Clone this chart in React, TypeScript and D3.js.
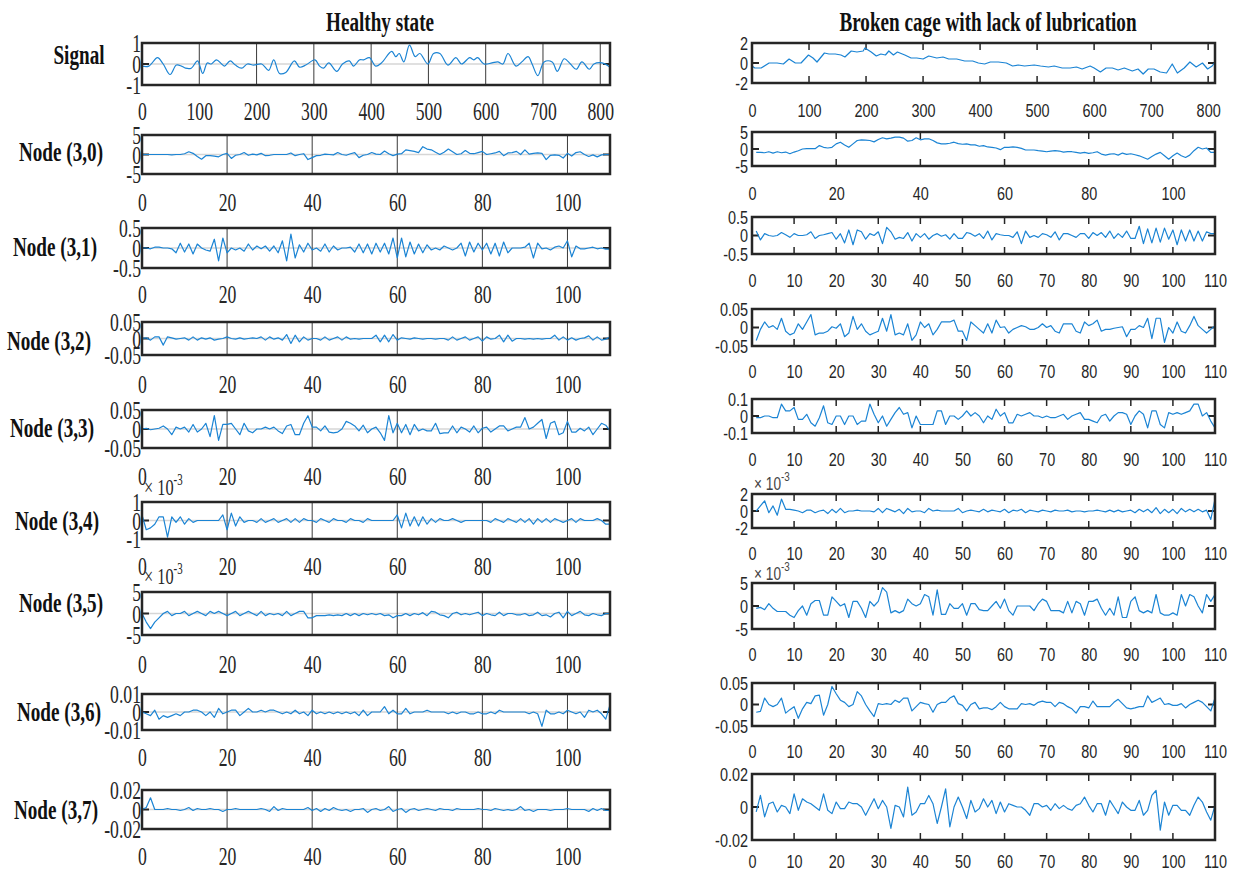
import * as d3 from 'd3';
import { useEffect, useRef } from 'react';

const W = 1245;
const H = 875;
const BLUE = '#1b84d4';
const INK = '#262626';
const SERIF = '"Liberation Serif", "Times New Roman", serif';
const SANS = '"Liberation Sans", Arial, sans-serif';

// ---- titles / row labels ----
const colTitles = ['Healthy state', 'Broken cage with lack of lubrication'];
const rowLabels = ['Signal', 'Node (3,0)', 'Node (3,1)', 'Node (3,2)', 'Node (3,3)', 'Node (3,4)', 'Node (3,5)', 'Node (3,6)', 'Node (3,7)'];

// ---- tick values ----
const signalTicks = [0, 100, 200, 300, 400, 500, 600, 700, 800];
const healthyNodeTicks = [0, 20, 40, 60, 80, 100];
const brokenNodeTicks = [0, 10, 20, 30, 40, 50, 60, 70, 80, 90, 100, 110];

// ---- signals (sample index, value) ----
const sigHealthyX = [0, 12, 27, 37, 49, 60, 69, 76, 86, 97, 106, 114, 121, 130, 139, 144, 154, 163, 174, 184, 195, 209, 221, 230, 240, 251, 266, 275, 286, 302, 310, 317, 326, 340, 350, 362, 369, 380, 387, 397, 408, 418, 436, 443, 449, 457, 467, 477, 485, 499, 509, 520, 534, 548, 558, 572, 579, 586, 597, 611, 621, 630, 639, 653, 663, 674, 681, 691, 702, 716, 725, 737, 748, 758, 768, 781, 789, 803, 817];
const sigHealthyY = [-0.1, -0.1, 0.3, 0, -0.5, -0.05, -0.1, -0.2, -0.2, 0.15, -0.45, 0.05, 0, 0.2, 0, -0.1, 0.15, -0.05, -0.2, 0, -0.05, 0, -0.3, 0.2, -0.45, -0.4, 0.15, -0.15, -0.05, 0.2, -0.1, -0.2, 0.05, -0.35, 0, 0.15, -0.1, 0.2, 0.2, 0.3, -0.1, 0.05, 0.6, 0.35, 0.5, 0.1, 0.9, 0.35, 0.5, 0, 0.5, 0.5, -0.05, 0.3, 0, 0.3, 0.2, 0.3, 0, 0.05, 0.1, 0, 0.5, -0.1, 0.1, 0.35, 0, -0.55, 0.1, 0.1, -0.35, 0.25, 0, -0.25, 0.1, -0.25, 0, 0.05, -0.15];
const sigBrokenX = [0, 5, 16, 30, 44, 55, 65, 76, 86, 99, 107, 114, 127, 135, 146, 156, 163, 174, 184, 195, 198, 209, 218, 226, 234, 240, 248, 255, 268, 279, 289, 300, 310, 324, 335, 345, 359, 373, 387, 397, 408, 418, 432, 446, 457, 467, 478, 495, 506, 520, 530, 544, 558, 569, 579, 593, 600, 611, 621, 632, 642, 653, 667, 677, 686, 695, 705, 716, 727, 737, 746, 758, 768, 779, 790, 799, 807, 812];
const sigBrokenY = [-0.3, -0.5, -0.5, 0, 0, -0.1, 0.4, 0, 0, 0.8, 0.5, 0.1, 1.0, 0.9, 0.9, 0.8, 0.6, 1.2, 1.1, 1.2, 1.5, 1.1, 0.7, 0.9, 0.8, 1.2, 0.8, 1.1, 0.8, 0.5, 0.5, 0.4, 0.7, 0.5, 0.6, 0.4, 0.4, 0.2, 0.2, 0, -0.1, 0.1, 0.1, 0, -0.3, -0.2, -0.3, -0.2, -0.3, -0.4, -0.3, -0.5, -0.5, -0.4, -0.6, -0.3, -0.5, -0.9, -0.5, -0.5, -0.7, -0.5, -0.8, -0.6, -1.1, -0.6, -0.6, -0.9, -1.0, -0.1, -1.0, -0.5, 0.1, -0.4, 0, -0.6, -0.3, 0.1];

// ---- wavelet packet nodes, healthy (samples 0..110) ----
const h30 = [0, 0, 0, 0, 0, 0, 0, -0.1, 0, 0, 0.2, 0.7, 0.3, -0.5, -1.2, -0.3, -0.3, -0.4, -0.6, 0, 0.3, -1.0, -0.2, 0, 0.5, -0.2, 0.1, -0.1, 0.3, -0.3, -0.2, 0, 0, 0, 0, 0.4, -0.3, 0, 0.2, -1.3, -0.8, -0.3, -0.2, 0.1, 0, -0.1, 0.5, 0, -0.2, 0.2, 0.5, -0.8, -0.2, 0, 0.5, 0.1, 0, 0.9, 0.2, -0.3, 0.1, 0.2, 1.2, 1.0, 0.8, 0.5, 2.0, 1.4, 1.2, 0.6, 0, 0.6, 1.4, 0.7, 0, 0.2, 1.0, 0.3, 0.2, 0.5, 0.8, 0, 0.2, 0.4, 0.8, -0.3, 0.4, 0.5, 0.8, 0, 1.2, 0.1, 0.3, 0.4, 0.3, -1.3, -0.2, -0.1, -0.2, -0.9, 0.3, -0.4, 0.5, 0.7, 0, -0.5, -0.1, -0.6, -0.1, 0, 0];
// x0.01
const h31 = [0, 0, -2, 2, 2, 0, 0, -2, -12, 12, -10, 10, -15, 10, 0, -5, -8, 22, -32, 25, -12, 0, -5, 0, -8, 10, -5, 5, -2, 5, -8, 5, -12, 18, -32, 35, -25, 8, -10, 12, -5, 0, -8, 10, -10, 5, -5, 0, 0, 2, -10, 10, -12, 10, -15, 12, -10, 12, -15, 25, -25, 25, -22, 15, -15, 10, -12, 8, -5, 0, -5, 5, 0, -5, 0, 12, -20, 15, -10, 12, -5, 12, -15, 12, -20, 15, -12, 0, 0, 0, 2, 12, -25, 12, -2, 0, -5, 2, 5, 0, 18, -22, 5, -2, -2, 0, 2, -2, 0, -3, -3];
// x0.001
const h32 = [0, 2, -5, 5, 5, -20, 5, 2, -2, 0, 2, -5, 5, -5, 2, -2, 2, -5, -2, 0, 5, 0, -2, 2, -2, 0, 2, 0, 5, -5, 5, -2, 2, -5, 12, -15, 10, -10, 5, -5, 0, 0, -5, 5, -5, 0, 5, -5, 5, -2, 0, -2, 0, 0, 0, 10, -10, 10, -10, 12, -5, 2, 0, -2, 2, 0, -2, 0, 0, -2, 0, 0, -5, 5, -5, 0, 5, -5, 0, 5, -8, 5, -2, 0, 10, -10, 10, -8, 0, 0, -2, 0, -2, 0, -2, 0, 0, 10, -5, 5, -5, 2, -5, 0, 2, 8, -5, 5, -5, -2, 5];
// x0.001
const h33 = [0, 2, -2, 0, 2, 8, 0, -15, 5, 0, 5, -8, 12, -8, 0, 15, -20, 35, -30, 12, 12, 15, 0, -15, 15, -5, -10, 0, 0, 5, 0, 5, -5, -12, 8, 12, -15, -15, 15, 35, 5, 5, -5, 8, -8, -10, -8, 0, 20, 15, 8, -5, 10, -10, 0, 5, -10, -30, 35, -10, 15, -10, 12, -15, 12, -5, 0, -5, -5, 15, -12, -10, -10, 8, -10, 5, 0, -8, 8, -10, 2, 5, -8, 0, 8, 8, -5, 0, 5, 5, 30, 0, 5, 15, 25, -25, 15, 20, -15, -10, 20, -8, -8, 2, -5, 5, -15, 0, 15, 10, -5];
// x0.0001
const h34 = [3, -5, -4, -2, 2, 2, -9, 2, -1, 2, -2, 1, -1, 0, 0, 0, 0, 0, 0, 3, -5, 4, -3, 2, -1, 0, 0, -1, 1, -1, 0, 1, -1, 0, 1, -1, 1, -1, 1, 0, 0, -1, 1, 0, -1, 1, 0, 0, -1, 1, 0, 0, -1, 1, 0, 0, 0, 0, 0, 0, 3, -4, 4, -3, 2, -3, 2, -2, 1, -1, 1, 0, 0, 1, 0, -1, 0, 0, 0, 0, 0, 0, -1, 1, 0, -1, 1, 0, -1, 1, -1, 1, -2, 1, -1, 1, -1, 1, 0, -1, 0, 1, -1, 1, 0, 0, 0, 1, 0, -2, -2];
// x0.001
const h35 = [0, -2, -3.5, -2, -1, 0, 0.5, -0.5, 0, 0, 0.5, -0.5, 0, 0.5, 0, -0.5, 0.5, 0, 0.5, 0, -0.5, 0, 0.5, -0.5, 0, 0.5, 0, -0.5, 0.5, -0.5, 0, -0.3, 0, -0.5, 0.5, -0.5, 0, 0.5, 0.5, -1, -1, -0.5, -0.5, -0.5, -0.3, -0.5, -0.3, -0.5, 0, -0.5, 0, -0.5, 0, -0.3, 0, -0.3, 0, -0.5, -0.3, -1, -0.5, -0.5, 0, -0.5, 0, -0.3, 0.2, -0.5, 0.5, 0.3, -0.3, -0.5, -1, 0, 0.3, -0.3, 0, -0.3, 0, 0.3, -0.5, 0, -0.3, -0.5, 0.3, -0.5, 0, 0, -0.3, -0.3, 0, -0.5, -0.3, 0.3, -0.5, -0.3, -0.8, 0, 0.3, -1, 0.5, -0.5, 0, 0.5, -0.3, -0.5, 0, -0.3, -0.5, 0, 0];
// x0.001
const h36 = [0, -1, -2, 1, -4, -2, -3, -2, -1, -2, 0, 0, 1, 1, 0, -2, 0, -3, 2, -1, 0, 1, 1, -2, 0, 2, 0, 0, 1, 0, 1, 1, 0, -1, 0, -1, 1, -1, 0, -2, 1, -1, 0, -1, 0, -1, 0, -1, 0, -1, 0, -2, 1, -2, 0, 0, 0, 3, -1, 1, -1, -1, 2, -1, 0, 0, 0, 1, 0, 0, 0, 0, -1, 0, -1, 0, 0, -1, -1, 0, -1, -1, 0, -1, 1, 0, 0, 0, 0, 0, 0, -1, 0, -1, -8, 1, -1, -1, 0, -1, 1, 0, -1, 0, -3, 1, 0, 1, -1, -4, 4];
// x0.001
const h37 = [0, 2, 12, 0, 0, 0, 1, 0, 0, -1, 0, 2, -1, 1, 0, 0, 1, 0, 0, -2, 0, 0, 1, 0, 0, 0, 0, 0, 1, 0, -2, 3, -1, 1, 0, 0, 0, 0, 0, 2, -1, 1, -2, 1, -1, 2, 0, -1, 0, -2, 0, 0, 1, -3, 0, 1, -1, 0, 3, -2, 0, 1, -3, 0, 1, -1, 0, 1, 0, -1, 1, 0, 0, -1, 1, 0, 0, 0, 0, 1, 0, 0, -1, 1, 0, -1, 0, -1, 0, 3, -1, 0, -2, 0, 0, 0, -1, 0, 0, 0, 1, 0, 0, 0, 0, -2, 1, -1, 1, -1, -1];

// ---- wavelet packet nodes, broken cage (samples 1..110) ----
const b30 = [-1.0, -1.0, -1.1, -0.8, -1.2, -0.8, -1.1, -0.9, -1.4, -0.9, -0.5, 0, 0.1, 0.1, 0.1, 1.0, 0.5, 0.3, 0.5, 1.5, 2.0, 1.2, 0.5, 1.5, 2.5, 2.7, 2.6, 2.5, 2.1, 2.8, 3.3, 3.0, 3.2, 3.5, 3.5, 3.2, 2.3, 2.5, 3.3, 2.7, 3.0, 3.0, 2.5, 1.8, 1.5, 1.5, 1.7, 2.0, 1.6, 1.4, 1.5, 1.2, 1.2, 0.8, 1.0, 0.6, 0.5, 0.3, -0.2, 0.5, 0.5, 0.6, 0.5, 0.2, -0.3, -0.3, -0.3, -0.5, -0.6, -0.8, -0.6, -0.5, -0.6, -0.9, -0.8, -0.8, -1.0, -1.2, -1.0, -1.3, -1.1, -0.8, -1.5, -1.8, -1.5, -1.4, -1.8, -1.2, -1.6, -1.4, -1.7, -2.0, -2.5, -3.0, -2.2, -1.5, -1.0, -2.0, -3.0, -2.0, -1.2, -2.0, -2.5, -1.8, -0.5, 0.5, 0, 0.3, -1.0, -1.0];
// x0.01
const b31 = [12, -12, 5, 0, -2, 0, 8, 2, -5, 5, 0, 0, 2, 10, -8, 0, 2, 5, 8, -10, 5, -20, 15, -25, 15, 10, -10, 5, 0, 10, -22, 22, 10, -10, -5, -8, 8, -15, 5, -5, 5, -10, 0, 5, -2, 2, -10, 5, -8, -8, 8, 5, -2, 5, -8, 12, -12, 5, 2, 0, 0, -5, 10, -22, 12, -5, 0, -5, 5, 2, -5, 10, -12, 5, 5, 0, -5, 5, 5, -8, 8, 0, 8, -5, 12, -8, 5, -5, 12, -8, -8, 25, -22, 18, -20, 20, -18, 20, -10, 15, -25, 15, -15, 15, -15, 12, -15, 10, 5, 5];
// x0.001
const b32 = [-35, -5, 15, 0, 5, -5, 25, -10, -20, -15, 10, -5, 15, 35, -20, -15, -15, -10, 2, -2, 10, -25, -15, 30, -5, 10, -10, -20, -15, -10, 25, -10, 35, -20, -15, -20, 10, -35, -20, 15, 0, 10, -20, -5, 15, 15, 15, 20, -10, -10, -35, 15, 5, -5, -15, 10, -15, 20, 0, 2, -15, -5, 0, 5, 2, -5, -5, 0, 10, 0, 5, -10, -15, 10, 10, 10, -10, -15, 15, 5, 10, 20, -10, -5, -5, -2, 0, 2, -25, -5, -5, 5, 0, 25, -30, 25, 25, -40, 0, -15, 15, -10, -15, 5, 30, 5, -5, -15, -5, 5];
// x0.01
const b33 = [-1, -1, 0, 0, -1, -1, 7, 3, 3, 5, -2, -2, 1, -4, -6, -1, 6, -4, -5, 0, 0, -5, 0, 0, -5, -3, -3, 7, 1, -4, 0, -6, -2, 2, 5, 1, 2, -7, 0, -5, -5, -5, -5, 3, 3, -5, 0, 0, -2, 0, 3, 0, 2, 0, -4, 0, -2, 4, 0, 2, -4, -4, 1, 0, 1, 2, 0, 0, -1, 0, -1, -1, 0, 1, -2, 0, 1, 2, -2, -2, -3, -4, 0, 1, -3, 0, 2, 2, 1, -5, 0, 3, 1, -7, 3, 3, -5, -7, 2, 1, 2, 1, 2, 3, 7, 7, 0, 2, -3, -7];
// x0.0001
const b34 = [0, 6, 12, -2, 6, -5, 14, 2, 2, 1, 0, -2, 1, 1, -2, 0, 1, -3, 2, -2, 3, -2, 0, 0, 1, 0, 0, 0, -1, 3, -2, 3, 1, -1, 2, -3, 3, -1, 0, 0, -2, 3, 0, 1, 0, 0, 0, 0, 3, -2, 0, 1, 0, -1, 2, -1, 1, 0, -1, 2, -2, 1, 0, 2, -2, 1, 0, -1, 1, 0, -1, 1, 0, 0, 1, -1, 0, 0, -1, 0, 0, 1, 0, -1, 1, -1, 1, -1, 0, 1, -2, 2, -1, 2, -2, 4, -3, 2, -2, 2, -3, 3, -1, 2, -1, 2, -1, 1, -10, 14];
// x0.001
const b35 = [-0.5, -0.3, -0.8, 0.5, -0.5, -1.2, -1.2, -1.2, -2, -2.5, -1, 0, -2, 0.5, 1.2, 1.2, -2, -2, 2, 1, 0, 0.5, -2.5, 1, 1, -0.5, -2.5, 1, 0, 1, 4, 3, -1.5, -1, -1.5, -1, 1.5, 0.5, 0, 0.5, 2.5, 2, -2, 3.5, -1.8, -1.8, 0.5, -0.5, -0.5, 0.5, -2, 0.5, 0.5, -0.8, -1, -1, 0, 1, -0.5, 1.5, -1, -2, 0, 0, 0, 0, -1, 0.5, 1.5, 1, -1, -1, -1, -1.5, 1, -1.5, 1, 0.5, -2, 1, 1, 1.5, -0.5, -2, -0.5, -2, 2, -2.5, -2.5, 1, 2, -1, -1.5, -1, -1.5, 2.5, -1.5, -2, -2, -1.5, -2, 2.5, 0, 2.5, 2, 0, -1.5, 2.5, 1, 2.5];
// x0.001
const b36 = [-18, -16, 15, 0, -5, 0, 15, -20, -12, -5, -32, -10, 5, 2, 20, 22, -25, 0, 42, 25, 10, 5, -5, 0, 30, 20, 0, -15, -28, 2, 0, 2, 0, 10, 5, 15, 15, -15, -5, 5, 2, 0, -18, 0, 5, 5, 15, 20, 2, -2, -15, 0, 5, -10, -8, -8, -12, -5, 5, -5, -10, -10, -10, 2, 0, 2, -2, 5, 8, 5, 5, -5, 5, 2, -5, -10, -20, -5, -5, -8, 8, -5, -5, -5, -5, 5, 12, 2, -8, -10, -8, -5, -5, 20, 5, 10, 15, 0, 2, -2, -2, 2, -8, 0, 5, 10, 5, -5, -15, 15];
// x0.001
const b37 = [-3, 7, -6, 2, 3, -3, 1, 0, -4, 8, -2, 5, 3, 2, 0, -2, 8, -2, -4, 3, -1, -1, 3, 2, 2, 0, -5, 0, 5, -1, 4, 0, -13, 1, 0, -6, 12, -5, -3, 2, 2, 7, 2, -10, 0, 11, -12, 0, 6, 0, -7, 4, -3, -1, 5, 0, 4, -4, 3, -3, 2, 1, 0, 0, -2, -5, 2, 2, 0, 1, -2, 2, -1, 1, -1, -2, 1, 2, 6, 1, -3, 2, 2, -5, 4, 0, -4, 3, 0, -2, -2, 4, -5, -2, 7, 10, -14, 3, -5, 1, 1, -2, -2, -5, 1, 6, 3, -3, -8, 1];

type Panel = {
  side: 'L' | 'R';
  top: number;
  bottom: number;
  labelY: number;
  xs?: number[];
  ys: number[];
  start?: number;
  k: number;
  xMax: number;
  xTicks: number[];
  yLim: number;
  yLabels: string[];
  mult?: number;
  smooth?: boolean;
};

const panels: Panel[] = [
  { side: 'L', top: 43, bottom: 85, labelY: 111, xs: sigHealthyX, ys: sigHealthyY, k: 1, xMax: 817, xTicks: signalTicks, yLim: 1, yLabels: ['1', '0', '-1'], smooth: true },
  { side: 'L', top: 135, bottom: 174, labelY: 202, ys: h30, start: 0, k: 1, xMax: 110, xTicks: healthyNodeTicks, yLim: 5, yLabels: ['5', '0', '-5'] },
  { side: 'L', top: 228, bottom: 268, labelY: 294, ys: h31, start: 0, k: 0.01, xMax: 110, xTicks: healthyNodeTicks, yLim: 0.5, yLabels: ['0.5', '0', '-0.5'] },
  { side: 'L', top: 322, bottom: 355, labelY: 384, ys: h32, start: 0, k: 0.001, xMax: 110, xTicks: healthyNodeTicks, yLim: 0.05, yLabels: ['0.05', '0', '-0.05'] },
  { side: 'L', top: 410, bottom: 448, labelY: 476, ys: h33, start: 0, k: 0.001, xMax: 110, xTicks: healthyNodeTicks, yLim: 0.05, yLabels: ['0.05', '0', '-0.05'] },
  { side: 'L', top: 502, bottom: 539, labelY: 566, ys: h34, start: 0, k: 0.0001, xMax: 110, xTicks: healthyNodeTicks, yLim: 0.001, yLabels: ['1', '0', '-1'], mult: 487 },
  { side: 'L', top: 592, bottom: 635, labelY: 664, ys: h35, start: 0, k: 0.001, xMax: 110, xTicks: healthyNodeTicks, yLim: 0.005, yLabels: ['5', '0', '-5'], mult: 576 },
  { side: 'L', top: 694, bottom: 730, labelY: 757, ys: h36, start: 0, k: 0.001, xMax: 110, xTicks: healthyNodeTicks, yLim: 0.01, yLabels: ['0.01', '0', '-0.01'] },
  { side: 'L', top: 790, bottom: 829, labelY: 856, ys: h37, start: 0, k: 0.001, xMax: 110, xTicks: healthyNodeTicks, yLim: 0.02, yLabels: ['0.02', '0', '-0.02'] },

  { side: 'R', top: 43, bottom: 83, labelY: 111, xs: sigBrokenX, ys: sigBrokenY, k: 1, xMax: 812, xTicks: signalTicks, yLim: 2, yLabels: ['2', '0', '-2'] },
  { side: 'R', top: 132, bottom: 166, labelY: 194, ys: b30, start: 1, k: 1, xMax: 110, xTicks: healthyNodeTicks, yLim: 5, yLabels: ['5', '0', '-5'] },
  { side: 'R', top: 217, bottom: 254, labelY: 281, ys: b31, start: 1, k: 0.01, xMax: 110, xTicks: brokenNodeTicks, yLim: 0.5, yLabels: ['0.5', '0', '-0.5'] },
  { side: 'R', top: 309, bottom: 346, labelY: 372, ys: b32, start: 1, k: 0.001, xMax: 110, xTicks: brokenNodeTicks, yLim: 0.05, yLabels: ['0.05', '0', '-0.05'] },
  { side: 'R', top: 399, bottom: 433, labelY: 460, ys: b33, start: 1, k: 0.01, xMax: 110, xTicks: brokenNodeTicks, yLim: 0.1, yLabels: ['0.1', '0', '-0.1'] },
  { side: 'R', top: 494, bottom: 528, labelY: 554, ys: b34, start: 1, k: 0.0001, xMax: 110, xTicks: brokenNodeTicks, yLim: 0.002, yLabels: ['2', '0', '-2'], mult: 483 },
  { side: 'R', top: 583, bottom: 629, labelY: 655, ys: b35, start: 1, k: 0.001, xMax: 110, xTicks: brokenNodeTicks, yLim: 0.005, yLabels: ['5', '0', '-5'], mult: 573 },
  { side: 'R', top: 683, bottom: 726, labelY: 752, ys: b36, start: 1, k: 0.001, xMax: 110, xTicks: brokenNodeTicks, yLim: 0.05, yLabels: ['0.05', '0', '-0.05'] },
  { side: 'R', top: 774, bottom: 840, labelY: 862, ys: b37, start: 1, k: 0.001, xMax: 110, xTicks: brokenNodeTicks, yLim: 0.02, yLabels: ['0.02', '0', '-0.02'] },
];

const rowLabelPos = [
  [79, 55], [61, 152], [55, 247], [49, 341], [52, 428], [57, 521], [61, 603], [59, 712], [56, 810],
];

export default function App() {
  const ref = useRef<SVGSVGElement>(null);

  useEffect(() => {
    drawChart();
  }, []);

  const drawChart = () => {
    const svg = d3.select(ref.current);
    svg.selectAll('*').remove();

    svg.append('rect').attr('width', W).attr('height', H).attr('fill', 'white');

    // column titles
    [380, 988].forEach((cx, i) => {
      svg
        .append('text')
        .attr('transform', `translate(${cx},22) scale(0.71,1)`)
        .attr('text-anchor', 'middle')
        .attr('dominant-baseline', 'central')
        .style('font-family', SERIF)
        .style('font-weight', 'bold')
        .style('font-size', '27px')
        .style('fill', '#111')
        .text(colTitles[i]);
    });

    // row labels
    rowLabels.forEach((lab, i) => {
      svg
        .append('text')
        .attr('transform', `translate(${rowLabelPos[i][0]},${rowLabelPos[i][1]}) scale(0.71,1)`)
        .attr('text-anchor', 'middle')
        .attr('dominant-baseline', 'central')
        .style('font-family', SERIF)
        .style('font-weight', 'bold')
        .style('font-size', '27px')
        .style('fill', '#111')
        .text(lab);
    });

    panels.forEach((p) => {
      const left = p.side === 'L';
      const x0 = left ? 142 : 752;
      const x1 = left ? 610 : 1215;
      const fam = left ? SERIF : SANS;
      const fs = left ? 26 : 19;
      const sx = left ? 0.68 : 0.76;

      const x = d3.scaleLinear().domain([0, p.xMax]).range([x0, x1]);
      const y = d3.scaleLinear().domain([-p.yLim, p.yLim]).range([p.bottom, p.top]);
      const xs = p.xs ?? p.ys.map((_, i) => i + (p.start ?? 0));

      const g = svg.append('g');

      if (left) {
        g.append('line')
          .attr('x1', x0)
          .attr('x2', x1)
          .attr('y1', y(0))
          .attr('y2', y(0))
          .attr('stroke', '#d6d6d6')
          .attr('stroke-width', 1.5);
        g.selectAll('.grid')
          .data(p.xTicks.filter((t) => t > 0))
          .enter()
          .append('line')
          .attr('x1', (d) => x(d))
          .attr('x2', (d) => x(d))
          .attr('y1', p.top)
          .attr('y2', p.bottom)
          .attr('stroke', '#3a3a3a')
          .attr('stroke-width', 1);
      } else {
        const inner = p.xTicks.filter((t) => t > 0 && t < p.xMax);
        [p.top, p.bottom].forEach((yy, j) => {
          g.selectAll(`.tk${j}`)
            .data(inner)
            .enter()
            .append('line')
            .attr('x1', (d) => x(d))
            .attr('x2', (d) => x(d))
            .attr('y1', yy)
            .attr('y2', j === 0 ? yy + 7 : yy - 7)
            .attr('stroke', INK)
            .attr('stroke-width', 1.5);
        });
      }

      // zero ticks on both sides
      [
        [x0, x0 + 7],
        [x1, x1 - 7],
      ].forEach(([a, b]) => {
        g.append('line')
          .attr('x1', a)
          .attr('x2', b)
          .attr('y1', y(0))
          .attr('y2', y(0))
          .attr('stroke', INK)
          .attr('stroke-width', 2);
      });

      const line = d3
        .line<number>()
        .x((_, i) => x(xs[i]))
        .y((d) => y(d * p.k))
        .curve(p.smooth ? d3.curveCatmullRom : d3.curveLinear);

      g.append('path')
        .datum(p.ys)
        .attr('d', line)
        .attr('fill', 'none')
        .attr('stroke', BLUE)
        .attr('stroke-width', 1.2)
        .attr('stroke-linejoin', 'round');

      g.append('rect')
        .attr('x', x0)
        .attr('y', p.top)
        .attr('width', x1 - x0)
        .attr('height', p.bottom - p.top)
        .attr('fill', 'none')
        .attr('stroke', INK)
        .attr('stroke-width', 2.5);

      // x tick labels
      const ax = g
        .append('g')
        .attr('transform', `translate(0,${p.labelY})`)
        .call(d3.axisBottom(x).tickValues(p.xTicks).tickSize(0).tickFormat(d3.format('d')));
      ax.select('.domain').remove();
      ax.attr('font-family', fam).attr('font-size', fs);
      ax.selectAll('text')
        .attr('y', 0)
        .attr('dy', null)
        .attr('dominant-baseline', 'central')
        .attr('transform', `scale(${sx},1)`)
        .style('fill', INK);

      // y tick labels
      const ay = g
        .append('g')
        .attr('transform', `translate(${left ? x0 - 1 : x0 - 4},0)`)
        .call(
          d3
            .axisLeft(y)
            .tickValues([p.yLim, 0, -p.yLim])
            .tickSize(0)
            .tickPadding(0)
            .tickFormat((_, i) => p.yLabels[i])
        );
      ay.select('.domain').remove();
      ay.attr('font-family', fam).attr('font-size', fs);
      ay.selectAll('text')
        .attr('x', 0)
        .attr('dy', null)
        .attr('dominant-baseline', 'central')
        .attr('transform', `scale(${sx},1)`)
        .style('fill', INK);

      // exponent label
      if (p.mult) {
        const t = g
          .append('text')
          .attr('transform', `translate(${x0 + 2},${p.mult}) scale(${sx},1)`)
          .attr('dominant-baseline', 'central')
          .style('font-family', fam)
          .style('font-size', left ? '24px' : '18px')
          .style('fill', left ? INK : '#444');
        t.append('tspan').text('\u00d7 10');
        t.append('tspan')
          .attr('dy', left ? -8 : -7)
          .style('font-size', left ? '16px' : '13px')
          .text('-3');
      }
    });
  };

  return (
    <div style={{ position: 'absolute', left: 0, top: 0 }}>
      <svg ref={ref} width={W} height={H} style={{ display: 'block' }} />
    </div>
  );
}
